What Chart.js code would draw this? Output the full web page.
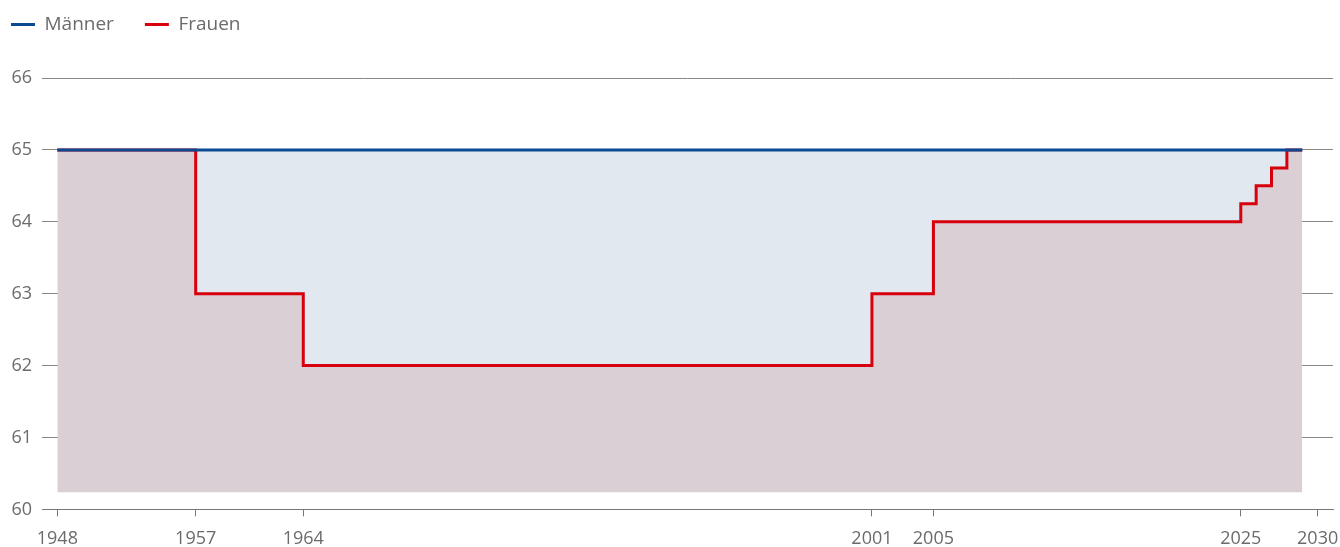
<!DOCTYPE html>
<html>
<head>
<meta charset="utf-8">
<script src="https://cdn.jsdelivr.net/npm/chart.js@4/dist/chart.umd.min.js"></script>
<style>
  html, body { margin: 0; padding: 0; background: #fff; }
  #wrap { width: 1340px; height: 547px; }
</style>
</head>
<body>
<div id="wrap"><canvas id="chart"></canvas></div>
<script>
// Regelaltersgrenze (Jahre) nach Jahr
const maennerYears = [1948, 2029];
const maennerAge = [65, 65];
const frauenYears = [1948, 1957, 1964, 2001, 2005, 2025, 2026, 2027, 2028, 2029];
const frauenAge = [65, 63, 62, 63, 64, 64.25, 64.5, 64.75, 65, 65];
const xTicks = [1948, 1957, 1964, 2001, 2005, 2025, 2030];
const yTicks = [60, 61, 62, 63, 64, 65, 66];

const toPoints = (xs, ys) => xs.map((x, i) => ({ x: x, y: ys[i] }));

const gray = '#6b6b6b';
const legendPad = 31;

// extra space under the legend + pull legend to the top left corner
const legendTweak = {
  id: 'legendTweak',
  beforeInit(chart) {
    const fit = chart.legend.fit;
    chart.legend.fit = function () {
      fit.bind(chart.legend)();
      this.height += 18;
    };
  },
  afterLayout(chart) {
    chart.legend.left = 11 - legendPad;
    chart.legend.top = -16;
  }
};

new Chart(document.getElementById('chart'), {
  type: 'line',
  data: {
    datasets: [
      {
        label: 'Männer',
        data: toPoints(maennerYears, maennerAge),
        borderColor: '#0b4a92',
        backgroundColor: '#e1e8f0',
        borderWidth: 3,
        stepped: true,
        pointRadius: 0,
        fill: '+1'
      },
      {
        label: 'Frauen',
        data: toPoints(frauenYears, frauenAge),
        borderColor: '#d8000c',
        backgroundColor: '#d9cfd5',
        borderWidth: 3,
        stepped: true,
        pointRadius: 0,
        fill: { value: 60.24 }
      }
    ]
  },
  options: {
    responsive: true,
    maintainAspectRatio: false,
    animation: false,
    layout: { padding: { left: 11, right: 7, top: 0, bottom: 0 } },
    plugins: {
      filler: { drawTime: 'beforeDatasetsDraw' },
      legend: {
        position: 'top',
        align: 'start',
        labels: {
          boxWidth: 24,
          boxHeight: 3,
          padding: legendPad,
          color: gray,
          font: { family: 'Open Sans', size: 19 },
          generateLabels(chart) {
            return chart.data.datasets.map((ds, i) => ({
              text: ds.label,
              fillStyle: ds.borderColor,
              strokeStyle: ds.borderColor,
              lineWidth: 0,
              fontColor: gray,
              datasetIndex: i
            }));
          }
        }
      },
      tooltip: { enabled: false }
    },
    scales: {
      x: {
        type: 'linear',
        min: 1947,
        max: 2031,
        afterBuildTicks(axis) {
          axis.ticks = xTicks.map(v => ({ value: v }));
        },
        afterFit(axis) {
          axis.paddingLeft = 0;
          axis.paddingRight = 0;
          axis.height -= 15;
        },
        grid: {
          drawOnChartArea: false,
          drawTicks: true,
          tickLength: 7,
          color: '#777'
        },
        border: { display: true, color: '#777', width: 1 },
        ticks: {
          color: gray,
          padding: 12,
          autoSkip: false,
          maxRotation: 0,
          font: { family: 'Open Sans', size: 18 },
          callback: v => String(v)
        }
      },
      y: {
        min: 60,
        max: 66,
        afterBuildTicks(axis) {
          axis.ticks = yTicks.map(v => ({ value: v }));
        },
        afterFit(axis) {
          axis.width = 31;
        },
        grid: {
          drawTicks: false,
          color: '#888',
          lineWidth: 1
        },
        border: { display: false },
        ticks: {
          color: gray,
          padding: 10,
          font: { family: 'Open Sans', size: 18 }
        }
      }
    }
  },
  plugins: [legendTweak]
});
</script>
</body>
</html>
